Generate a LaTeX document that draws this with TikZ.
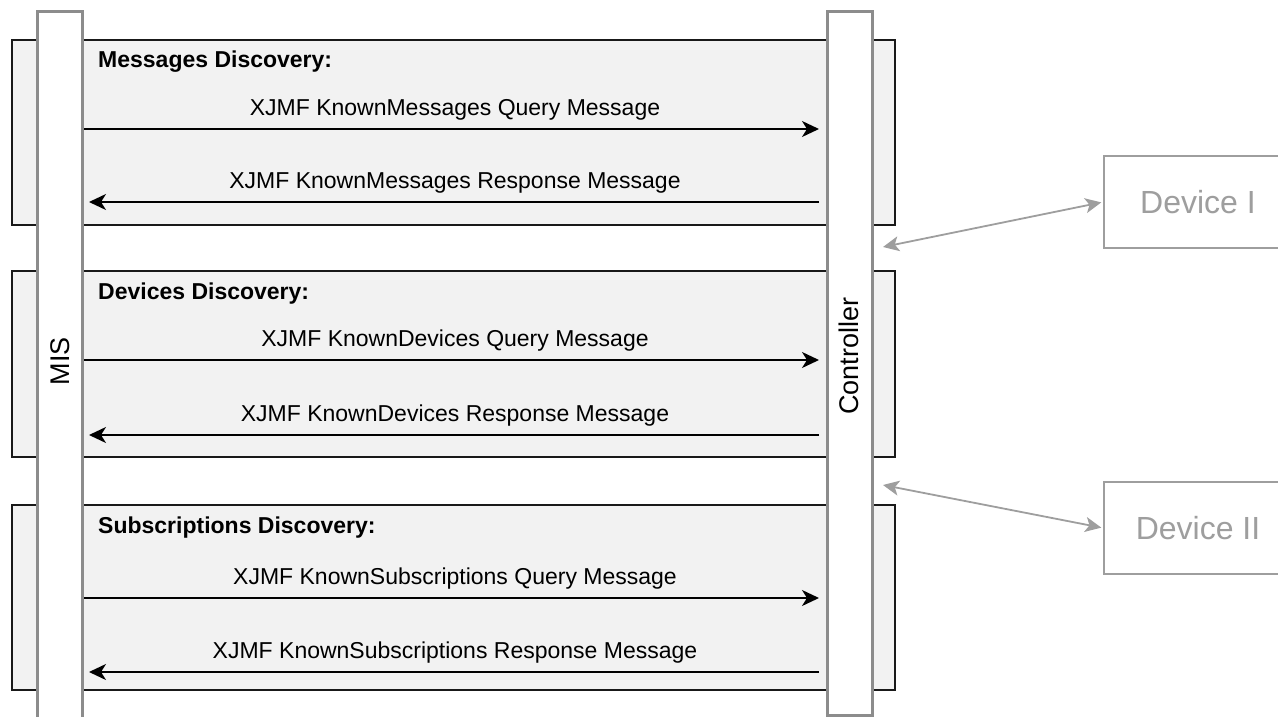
\documentclass[tikz,border=0pt]{standalone}
\usepackage{fontspec}
\setmainfont{Liberation Sans}
\usetikzlibrary{arrows.meta}

\definecolor{bandfill}{RGB}{242,242,242}
\definecolor{lifegray}{RGB}{140,140,140}
\definecolor{devgray}{RGB}{158,158,158}

\begin{document}
\begin{tikzpicture}[x=1pt, y=-1pt,
		band/.style={draw=black!90, line width=1.6pt, fill=bandfill},
		lifeline/.style={draw=lifegray, line width=3pt, fill=white, minimum width=45pt, inner sep=0pt, anchor=north},
		msg/.style={line width=1.8pt, -{Stealth[length=17pt, width=16pt, inset=5pt]}},
		msglabel/.style={font=\fontsize{23}{26}\selectfont, inner sep=8pt},
		bandtitle/.style={font=\fontsize{23}{26}\selectfont\bfseries, anchor=base west, inner sep=0pt},
		devbox/.style={draw=devgray, line width=1.5pt, fill=white, text=devgray, minimum width=188pt, minimum height=92pt, font=\fontsize{32}{36}\selectfont},
		link/.style={color=devgray, line width=1.8pt, {Stealth[length=16pt, width=15pt, inset=4pt]}-{Stealth[length=16pt, width=15pt, inset=4pt]}}]
	% one unit is one pixel of the 1278 x 717 frame, y grows downwards
	\useasboundingbox (0,0) rectangle (1278,717);
	\clip (0,0) rectangle (1278,717);
	% discovery bands
	\foreach \ytop/\ybot in {40/225, 271/457, 505/690}
		\draw[band] (12,\ytop) rectangle (895,\ybot);
	% lifelines
	\node[lifeline, minimum height=740pt] (mis) at (60,10) {};
	\node[lifeline, minimum height=704pt] (ctrl) at (850,10) {};
	\node[rotate=90, font=\fontsize{27}{30}\selectfont] (mislabel) at (60,361) {MIS};
	\node[rotate=90, font=\fontsize{27}{30}\selectfont] (ctrllabel) at (849,356) {Controller};
	% query and response messages of each band
	\foreach \ytop/\qy/\ry/\topic in {40/129/202/Messages, 271/360/435/Devices, 505/598/672/Subscriptions} {
		\node[bandtitle] (t\topic) at (98,{\ytop+28}) {\topic\ Discovery:};
		\coordinate (q\topic) at (0,\qy);
		\coordinate (r\topic) at (0,\ry);
		\draw[msg, shorten >=7pt] (mis.east |- q\topic) -- node[msglabel, above] (ql\topic) {XJMF Known\topic\ Query Message} (ctrl.west |- q\topic);
		\draw[msg, shorten <=7pt, shorten >=5pt] (ctrl.west |- r\topic) -- node[msglabel, above] (rl\topic) {XJMF Known\topic\ Response Message} (mis.east |- r\topic);
	}
	% devices behind the controller
	\node[devbox] (dev1) at (1198,202) {Device I};
	\node[devbox] (dev2) at (1198,528) {Device II};
	\coordinate (c1) at (883,247);
	\coordinate (c2) at (883,485);
	\draw[link, shorten >=2pt] (c1) -- (dev1.west);
	\draw[link, shorten >=2pt] (c2) -- (dev2.west);
\end{tikzpicture}
\end{document}
